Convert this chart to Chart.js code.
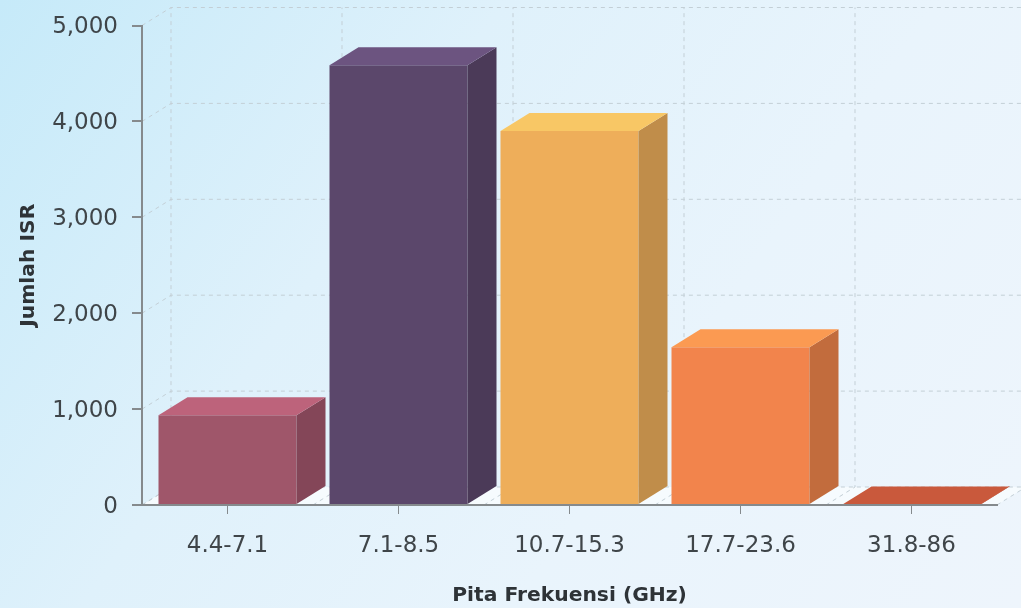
<!DOCTYPE html>
<html>
<head>
<meta charset="utf-8">
<title>Jumlah ISR</title>
<script src="https://cdn.jsdelivr.net/npm/chart.js@4/dist/chart.umd.min.js"></script>
<style>
  html, body { margin: 0; padding: 0; }
  body { width: 1021px; height: 608px; overflow: hidden; background: linear-gradient(125deg, #c6eaf9 0%, #dff1fb 35%, #e9f4fc 65%, #eef5fc 100%); }
  #wrap { position: relative; width: 1021px; height: 608px; }
</style>
</head>
<body>
<div id="wrap"><canvas id="chart"></canvas></div>
<script>
const categories = ['4.4-7.1', '7.1-8.5', '10.7-15.3', '17.7-23.6', '31.8-86'];
const isrCounts = [937, 4585, 3900, 1646, 4];
const frontColors = ['#9f566a', '#5b476b', '#eeae5a', '#f2844c', '#c9593c'];
const sideColors = ['#844658', '#4b3a58', '#c08d4a', '#c26c3d', '#a84a32'];
const topColors = ['#bd637b', '#6c5480', '#f8c765', '#fb9a52', '#c9593c'];

const depthX = 29; // kedalaman 3D
const depthY = 18;
const fontName = '"DejaVu Sans", sans-serif';

// dinding belakang + lantai
const wallPlugin = {
  id: 'wall',
  beforeDatasetsDraw(chart) {
    const { ctx, chartArea: area, scales } = chart;
    const y0 = scales.y.getPixelForValue(0);
    ctx.save();

    ctx.fillStyle = '#f6fbfe';
    ctx.beginPath();
    ctx.moveTo(area.left, y0);
    ctx.lineTo(area.left + depthX, y0 - depthY);
    ctx.lineTo(area.right + depthX, y0 - depthY);
    ctx.lineTo(area.right, y0);
    ctx.closePath();
    ctx.fill();

    ctx.strokeStyle = '#c3cfd6';
    ctx.lineWidth = 1;
    ctx.setLineDash([4, 4]);
    scales.y.ticks.forEach(t => {
      const y = scales.y.getPixelForValue(t.value);
      ctx.beginPath();
      ctx.moveTo(area.left, y);
      ctx.lineTo(area.left + depthX, y - depthY);
      ctx.lineTo(area.right + depthX, y - depthY);
      ctx.stroke();
    });
    const step = (area.right - area.left) / categories.length;
    for (let i = 0; i <= categories.length; i++) {
      const x = area.left + step * i;
      ctx.beginPath();
      ctx.moveTo(x, y0);
      ctx.lineTo(x + depthX, y0 - depthY);
      ctx.lineTo(x + depthX, area.top - depthY);
      ctx.stroke();
    }
    ctx.restore();
  }
};

// sisi samping dan atas batang
const boxPlugin = {
  id: 'box',
  afterDatasetsDraw(chart) {
    const { ctx } = chart;
    const bars = chart.getDatasetMeta(0).data;
    ctx.save();
    bars.forEach((bar, i) => {
      const left = bar.x - bar.width / 2;
      const right = bar.x + bar.width / 2;
      ctx.fillStyle = sideColors[i];
      ctx.beginPath();
      ctx.moveTo(right, bar.y);
      ctx.lineTo(right + depthX, bar.y - depthY);
      ctx.lineTo(right + depthX, bar.base - depthY);
      ctx.lineTo(right, bar.base);
      ctx.closePath();
      ctx.fill();

      ctx.fillStyle = topColors[i];
      ctx.beginPath();
      ctx.moveTo(left, bar.y);
      ctx.lineTo(left + depthX, bar.y - depthY);
      ctx.lineTo(right + depthX, bar.y - depthY);
      ctx.lineTo(right, bar.y);
      ctx.closePath();
      ctx.fill();
    });
    ctx.restore();
  }
};

new Chart(document.getElementById('chart'), {
  type: 'bar',
  data: {
    labels: categories,
    datasets: [{
      data: isrCounts,
      backgroundColor: frontColors,
      borderWidth: 0,
      barPercentage: 0.807,
      categoryPercentage: 1
    }]
  },
  options: {
    responsive: true,
    maintainAspectRatio: false,
    animation: false,
    layout: { padding: { top: 25, right: 24, bottom: 0, left: 0 } },
    plugins: { legend: { display: false }, tooltip: { enabled: false } },
    scales: {
      x: {
        afterFit(scale) { scale.height = 103; },
        border: { display: true, color: '#858a8d', width: 2, z: 1 },
        grid: { display: true, offset: false, drawOnChartArea: false, drawTicks: true, tickLength: 9, color: '#858a8d', lineWidth: 1, z: 1 },
        ticks: { color: '#3f4549', font: { family: fontName, size: 23, lineHeight: 1 }, padding: 21, maxRotation: 0 },
        title: {
          display: true,
          text: 'Pita Frekuensi (GHz)',
          color: '#2e3337',
          font: { family: fontName, size: 20.3, weight: 'bold' },
          padding: { top: 0, bottom: 0 }
        }
      },
      y: {
        min: 0,
        max: 5000,
        afterFit(scale) { scale.width = 142; },
        border: { display: true, color: '#858a8d', width: 2, z: 1 },
        grid: { display: true, drawOnChartArea: false, drawTicks: true, tickLength: 10, color: '#858a8d', lineWidth: 2, z: 1 },
        ticks: {
          stepSize: 1000,
          color: '#3f4549',
          font: { family: fontName, size: 23, lineHeight: 1 },
          padding: 14,
          labelOffset: 2,
          callback: v => v.toLocaleString('en-US')
        },
        title: {
          display: true,
          text: 'Jumlah ISR',
          color: '#2e3337',
          font: { family: fontName, size: 20.3, weight: 'bold' },
          padding: { top: 17, bottom: 0 }
        }
      }
    }
  },
  plugins: [wallPlugin, boxPlugin]
});
</script>
</body>
</html>
